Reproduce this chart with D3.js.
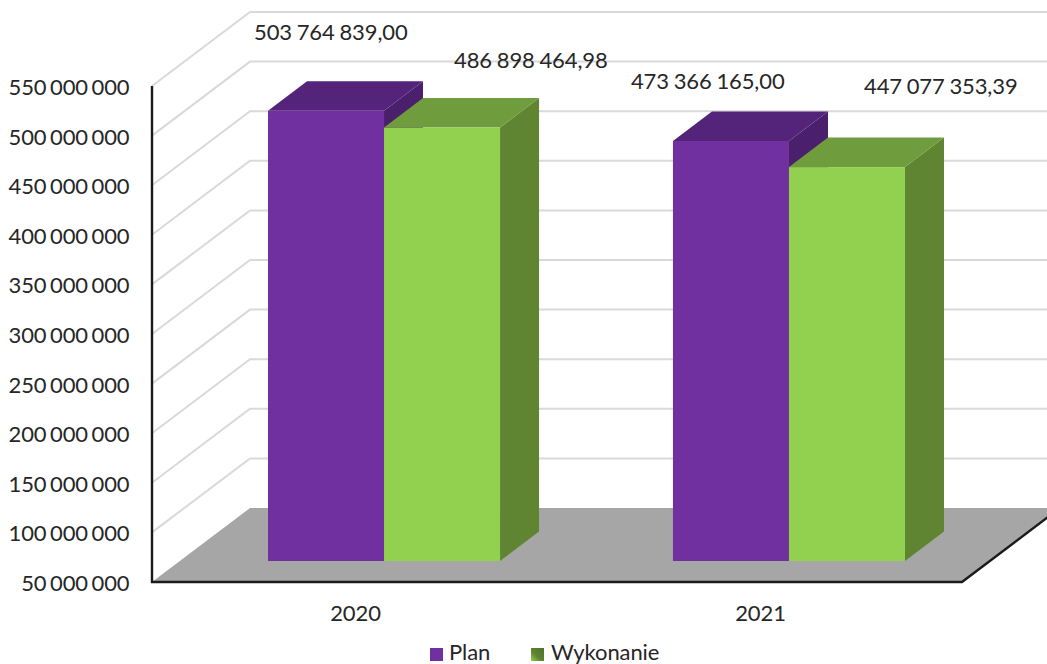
<!DOCTYPE html>
<html><head><meta charset="utf-8">
<script src="https://cdn.jsdelivr.net/npm/d3@7"></script>
<style>html,body{margin:0;padding:0;background:#fff;overflow:hidden}text{font-family:Lato,"Open Sans",sans-serif;fill:#262626}</style>
</head><body><svg id="c" width="1047" height="664"></svg>
<script>
const categories = ["2020","2021"];
const seriesNames = ["Plan","Wykonanie"];
const planValues = [503764839.00,473366165.00];
const wykonanieValues = [486898464.98,447077353.39];
const tickValues = [50,100,150,200,250,300,350,400,450,500,550].map(d=>d*1e6);

const faces = {
  Plan:{front:"#7030a0",top:"#54247a",side:"#4a1f6c"},
  Wykonanie:{front:"#92d050",top:"#6f9c3c",side:"#5f8532"}
};
const seriesValues = {Plan:planValues,Wykonanie:wykonanieValues};
const labelNudge = {Plan:[[-14,-71],[-42,-52]],Wykonanie:[[70,-60],[75,-73]]};

const svg = d3.select("#c");
const left=152,right=962,floorY=582,topY=86;
const depthX=98,depthY=74;          // full chart depth
const barInX=29.5,barInY=21;        // bar front inset from chart front
const barDX=39,barDY=29.5;          // bar depth

const y = d3.scaleLinear().domain([50e6,550e6]).range([floorY,topY]);
const x = d3.scaleBand().domain(categories).range([left,right]).paddingInner(0.427).paddingOuter(0.2136);
const xs = d3.scaleBand().domain(seriesNames).range([0,x.bandwidth()]);
const poly = p=>p.map(q=>q.join(",")).join(" ");

// gridlines
svg.append("g").selectAll("polyline").data(tickValues.slice(1)).join("polyline")
  .attr("points",d=>poly([[left,y(d)],[left+depthX,y(d)-depthY],[1047,y(d)-depthY]]))
  .attr("fill","none").attr("stroke","#d9d9d9").attr("stroke-width",2);

// floor
const edgeX=right+depthX;
svg.append("polygon")
  .attr("points",poly([[left,floorY],[left+depthX,floorY-depthY],[edgeX,floorY-depthY],[right,floorY]]))
  .attr("fill","#a6a6a6");

// axes
svg.append("polyline")
  .attr("points",poly([[left,topY],[left,floorY],[right,floorY],[edgeX,floorY-depthY]]))
  .attr("fill","none").attr("stroke","#1a1a1a").attr("stroke-width",2.4);

// bars
const barBase=floorY-barInY;
categories.forEach((cat,ci)=>{
  seriesNames.forEach(s=>{
    const v=seriesValues[s][ci], f=faces[s];
    const x0=x(cat)+xs(s)+barInX, x1=x0+xs.bandwidth();
    const t=y(v)-barInY;
    const g=svg.append("g");
    g.append("polygon").attr("fill",f.side)
      .attr("points",poly([[x1,t],[x1+barDX,t-barDY],[x1+barDX,barBase-barDY],[x1,barBase]]));
    g.append("polygon").attr("fill",f.top)
      .attr("points",poly([[x0,t],[x0+barDX,t-barDY],[x1+barDX,t-barDY],[x1,t]]));
    g.append("rect").attr("fill",f.front).attr("x",x0).attr("y",t).attr("width",x1-x0).attr("height",barBase-t);
  });
});

// data labels
const loc=d3.formatLocale({decimal:",",thousands:"\u00a0",grouping:[3],currency:["",""]});
const fmt2=loc.format(",.2f"), fmt0=loc.format(",.0f");
const fontSize=22;
function thin(sel){return sel.attr("font-size",fontSize).attr("letter-spacing",-0.1).attr("word-spacing",-2);}
categories.forEach((cat,ci)=>{
  seriesNames.forEach(s=>{
    const v=seriesValues[s][ci];
    const [nx,ny]=labelNudge[s][ci];
    const x0=x(cat)+xs(s)+barInX;
    thin(svg.append("text")).attr("word-spacing",-0.8).attr("x",x0+nx).attr("y",y(v)-barInY+ny).text(fmt2(v));
  });
});

// y tick labels
svg.append("g").selectAll("text").data(tickValues).join("text")
  .attr("x",129.5).attr("y",d=>y(d)+9).attr("text-anchor","end").call(thin).text(d=>fmt0(d));

// category labels
svg.append("g").selectAll("text").data(categories).join("text")
  .attr("x",d=>x(d)+x.bandwidth()/2+1).attr("y",621).attr("text-anchor","middle").call(thin).text(d=>d);

// legend
const defs=svg.append("defs");
const lg=defs.append("linearGradient").attr("id","wg").attr("x1",1).attr("y1",0).attr("x2",0).attr("y2",1);
lg.append("stop").attr("offset","0").attr("stop-color","#4f7028");
lg.append("stop").attr("offset","0.6").attr("stop-color","#5f8532");
lg.append("stop").attr("offset","1").attr("stop-color","#92d050");
const legendX={Plan:[430,449],Wykonanie:[531,551]};
seriesNames.forEach(s=>{
  svg.append("rect").attr("x",legendX[s][0]).attr("y",648).attr("width",13).attr("height",13)
    .attr("fill",s==="Plan"?faces.Plan.front:"url(#wg)");
  thin(svg.append("text")).attr("x",legendX[s][1]).attr("y",659.5).text(s);
});
</script></body></html>
